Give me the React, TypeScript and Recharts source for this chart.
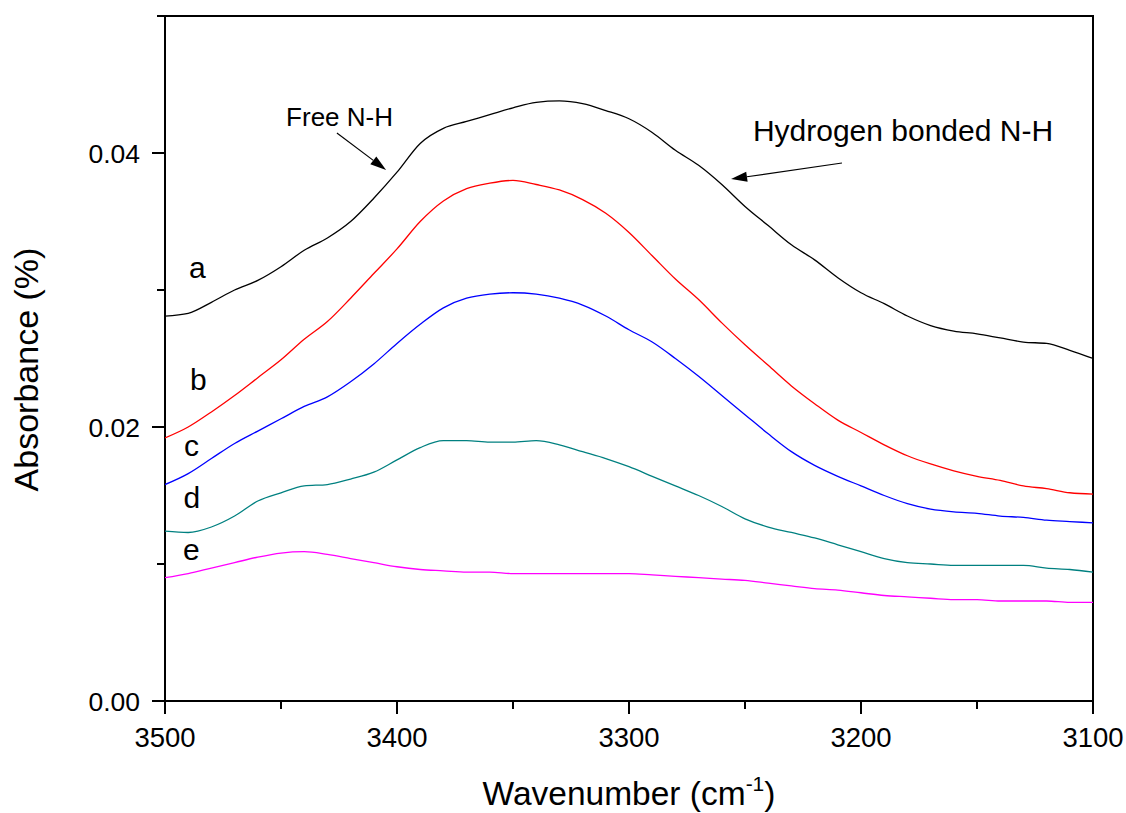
import React from 'react';
import { LineChart, Line, XAxis, YAxis, ReferenceArea, ReferenceLine, ReferenceDot } from 'recharts';

const wavenumbers = [3500, 3490, 3480, 3470, 3460, 3450, 3440, 3430, 3420, 3410, 3400, 3390, 3380, 3370, 3360, 3350, 3340, 3330, 3320, 3310, 3300, 3290, 3280, 3270, 3260, 3250, 3240, 3230, 3220, 3210, 3200, 3190, 3180, 3170, 3160, 3150, 3140, 3130, 3120, 3110, 3100];

const seriesA = [0.0281, 0.0283, 0.0291, 0.0300, 0.0307, 0.0317, 0.0329, 0.0338, 0.0350, 0.0367, 0.0386, 0.0407, 0.0418, 0.0423, 0.0428, 0.0433, 0.0437, 0.0438, 0.0436, 0.0431, 0.0425, 0.0415, 0.0402, 0.0391, 0.0377, 0.0361, 0.0347, 0.0333, 0.0322, 0.0309, 0.0298, 0.0290, 0.0281, 0.0274, 0.0270, 0.0268, 0.0265, 0.0262, 0.0261, 0.0256, 0.0250];
const seriesB = [0.0192, 0.0200, 0.0211, 0.0223, 0.0236, 0.0249, 0.0264, 0.0277, 0.0294, 0.0312, 0.0330, 0.0350, 0.0365, 0.0374, 0.0378, 0.0380, 0.0377, 0.0373, 0.0366, 0.0356, 0.0342, 0.0325, 0.0308, 0.0293, 0.0276, 0.0260, 0.0245, 0.0230, 0.0217, 0.0205, 0.0196, 0.0187, 0.0179, 0.0173, 0.0168, 0.0164, 0.0161, 0.0157, 0.0155, 0.0152, 0.0151];
const seriesC = [0.0158, 0.0166, 0.0177, 0.0188, 0.0197, 0.0206, 0.0215, 0.0222, 0.0233, 0.0246, 0.0261, 0.0275, 0.0287, 0.0294, 0.0297, 0.0298, 0.0297, 0.0294, 0.0289, 0.0281, 0.0271, 0.0262, 0.0250, 0.0237, 0.0223, 0.0209, 0.0195, 0.0182, 0.0172, 0.0164, 0.0157, 0.0150, 0.0144, 0.0140, 0.0138, 0.0137, 0.0135, 0.0134, 0.0132, 0.0131, 0.0130];
const seriesD = [0.0124, 0.0123, 0.0127, 0.0135, 0.0146, 0.0152, 0.0157, 0.0158, 0.0162, 0.0167, 0.0176, 0.0185, 0.0190, 0.0190, 0.0189, 0.0189, 0.0190, 0.0187, 0.0182, 0.0177, 0.0171, 0.0164, 0.0157, 0.0150, 0.0142, 0.0133, 0.0127, 0.0123, 0.0119, 0.0114, 0.0109, 0.0104, 0.0101, 0.0100, 0.0099, 0.0099, 0.0099, 0.0099, 0.0097, 0.0096, 0.0094];
const seriesE = [0.0090, 0.0093, 0.0097, 0.0101, 0.0105, 0.0108, 0.0109, 0.0107, 0.0104, 0.0101, 0.0098, 0.0096, 0.0095, 0.0094, 0.0094, 0.0093, 0.0093, 0.0093, 0.0093, 0.0093, 0.0093, 0.0092, 0.0091, 0.0090, 0.0089, 0.0088, 0.0086, 0.0084, 0.0082, 0.0081, 0.0079, 0.0077, 0.0076, 0.0075, 0.0074, 0.0074, 0.0073, 0.0073, 0.0073, 0.0072, 0.0072];

const xTicks = [3500, 3450, 3400, 3350, 3300, 3250, 3200, 3150, 3100];
const yTicks = [0, 0.01, 0.02, 0.03, 0.04, 0.05];

const seriesKeys = ['a', 'b', 'c', 'd', 'e'];
const seriesColors = ['#000000', '#ff0000', '#0000ff', '#008080', '#ff00ff'];

// curve letter labels: [wavenumber, absorbance] at text left/baseline
const curveLabels = [
  { text: 'a', w: 3489.7, v: 0.0309 },
  { text: 'b', w: 3489.2, v: 0.0227 },
  { text: 'c', w: 3491.8, v: 0.0179 },
  { text: 'd', w: 3492.0, v: 0.0141 },
  { text: 'e', w: 3492.2, v: 0.0103 },
];

const textNotes = [
  { text: 'Free N-H', w: 3447.8, v: 0.0420, size: 26 },
  { text: 'Hydrogen bonded N-H', w: 3246.6, v: 0.0409, size: 30 },
];

const arrowNotes = [
  { w1: 3425.9, v1: 0.04146, w2: 3404.7, v2: 0.03876 },
  { w1: 3208.2, v1: 0.03927, w2: 3256.0, v2: 0.0381 },
];

const data = wavenumbers.map((w, i) => ({
  w,
  a: seriesA[i],
  b: seriesB[i],
  c: seriesC[i],
  d: seriesD[i],
  e: seriesE[i],
}));

const FONT = '"Liberation Sans", Arial, Helvetica, sans-serif';

const XTick = (props: any) => {
  const { x, y, payload } = props;
  const v = payload.value;
  const major = v % 100 === 0;
  return (
    <g>
      <line x1={x} x2={x} y1={y} y2={y + (major ? 13 : 8)} stroke="#000" strokeWidth={2} />
      {major && (
        <text x={x} y={y + 46} textAnchor="middle" fontSize={27.5} fontFamily={FONT} fill="#000">
          {v}
        </text>
      )}
    </g>
  );
};

const YTick = (props: any) => {
  const { x, y, payload } = props;
  const v = payload.value;
  const major = Math.round(v * 100) % 2 === 0;
  return (
    <g>
      <line x1={x} x2={x - (major ? 13 : 8)} y1={y} y2={y} stroke="#000" strokeWidth={2} />
      {major && (
        <text x={x - 25} y={y + 9.5} textAnchor="end" fontSize={26.5} fontFamily={FONT} fill="#000">
          {v.toFixed(2)}
        </text>
      )}
    </g>
  );
};

const ArrowShape = (props: any) => {
  const { x1, y1, x2, y2 } = props;
  const ang = Math.atan2(y2 - y1, x2 - x1);
  const L = 16;
  const W = 5;
  const bx = x2 - L * Math.cos(ang);
  const by = y2 - L * Math.sin(ang);
  const px = -Math.sin(ang) * W;
  const py = Math.cos(ang) * W;
  return (
    <g>
      <line x1={x1} y1={y1} x2={bx} y2={by} stroke="#000" strokeWidth={1.2} />
      <polygon points={`${x2},${y2} ${bx + px},${by + py} ${bx - px},${by - py}`} fill="#000" />
    </g>
  );
};

const makeTextShape = (text: string, size: number) => (props: any) => (
  <text x={props.cx} y={props.cy} fontSize={size} fontFamily={FONT} fill="#000">
    {text}
  </text>
);

const XLabel = (props: any) => {
  const vb = props.viewBox || { x: 165, y: 701, width: 928, height: 112 };
  return (
    <text x={vb.x + vb.width / 2} y={vb.y + 104} textAnchor="middle" fontSize={33.5} fontFamily={FONT} fill="#000">
      Wavenumber (cm
      <tspan fontSize={21} dy={-14}>-1</tspan>
      <tspan dy={14}>)</tspan>
    </text>
  );
};

const YLabel = (props: any) => {
  const vb = props.viewBox || { x: 0, y: 16, width: 165, height: 685 };
  const cx = 38;
  const cy = vb.y + vb.height / 2 + 11;
  return (
    <text x={cx} y={cy} transform={`rotate(-90, ${cx}, ${cy})`} textAnchor="middle" fontSize={34} fontFamily={FONT} fill="#000">
      Absorbance (%)
    </text>
  );
};

export default function App() {
  return (
    <div style={{ position: 'absolute', left: 0, top: 0, background: '#fff' }}>
      <LineChart width={1126} height={813} data={data} margin={{ top: 16, right: 33, left: 0, bottom: 0 }}>
        <XAxis
          dataKey="w"
          type="number"
          domain={[3100, 3500]}
          reversed
          ticks={xTicks}
          interval={0}
          allowDataOverflow
          height={112}
          tickSize={0}
          tickMargin={0}
          tickLine={false}
          axisLine={false}
          tick={(p: any) => <XTick {...p} />}
          label={{ content: (p: any) => <XLabel {...p} /> }}
        />
        <YAxis
          type="number"
          domain={[0, 0.05]}
          ticks={yTicks}
          interval={0}
          allowDataOverflow
          width={165}
          tickSize={0}
          tickMargin={0}
          tickLine={false}
          axisLine={false}
          tick={(p: any) => <YTick {...p} />}
          label={{ content: (p: any) => <YLabel {...p} /> }}
        />
        <ReferenceArea x1={3500} x2={3100} y1={0} y2={0.05} fill="none" fillOpacity={0} stroke="#000" strokeWidth={2} ifOverflow="visible" />
        {seriesKeys.map((k, i) => (
          <Line
            key={k}
            dataKey={k}
            type="monotone"
            stroke={seriesColors[i]}
            strokeWidth={1.3}
            dot={false}
            activeDot={false}
            isAnimationActive={false}
          />
        ))}
        {arrowNotes.map((a, i) => (
          <ReferenceLine
            key={`arr${i}`}
            segment={[{ x: a.w1, y: a.v1 }, { x: a.w2, y: a.v2 }]}
            shape={(p: any) => <ArrowShape {...p} />}
            ifOverflow="visible"
          />
        ))}
        {textNotes.map((t, i) => (
          <ReferenceDot key={`tn${i}`} x={t.w} y={t.v} r={0} ifOverflow="visible" shape={makeTextShape(t.text, t.size)} />
        ))}
        {curveLabels.map((t, i) => (
          <ReferenceDot key={`cl${i}`} x={t.w} y={t.v} r={0} ifOverflow="visible" shape={makeTextShape(t.text, 30)} />
        ))}
      </LineChart>
    </div>
  );
}
